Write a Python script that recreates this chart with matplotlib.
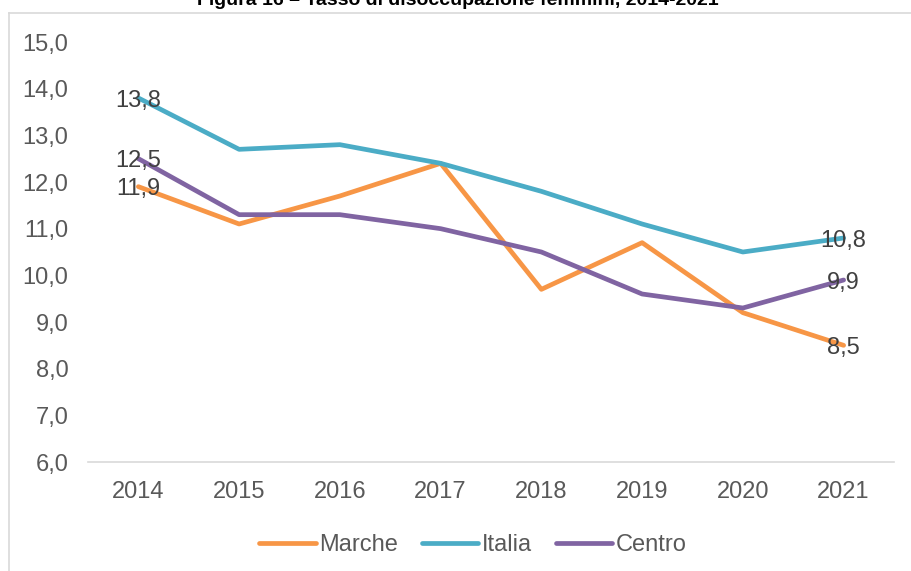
import matplotlib.pyplot as plt
from matplotlib.lines import Line2D

# --------------- Tasso di disoccupazione femminile 2014-2021 ---------------

years = ['2014', '2015', '2016', '2017', '2018', '2019', '2020', '2021']
marche = [11.9, 11.1, 11.7, 12.4, 9.7, 10.7, 9.2, 8.5]
italia = [13.8, 12.7, 12.8, 12.4, 11.8, 11.1, 10.5, 10.8]
centro = [12.5, 11.3, 11.3, 11.0, 10.5, 9.6, 9.3, 9.9]

plt.rcParams['font.family'] = ['Liberation Sans', 'DejaVu Sans']

fig = plt.figure(figsize=(9.12, 5.71), dpi=100)
ax = fig.add_axes([88 / 912, 1 - 462 / 571, (894 - 88) / 912, 420 / 571])

x = range(len(years))
ax.plot(x, marche, color='#F79646', linewidth=3.4, label='Marche', solid_capstyle='round')
ax.plot(x, italia, color='#4BACC6', linewidth=3.4, label='Italia', solid_capstyle='round')
ax.plot(x, centro, color='#8064A2', linewidth=3.4, label='Centro', solid_capstyle='round')

# labels on first and last point only
for series in (marche, italia, centro):
    for i in (0, len(years) - 1):
        ax.text(i, series[i], f'{series[i]:.1f}'.replace('.', ','), ha='center', va='center_baseline',
                fontsize=17, color='#404040')

ax.set_xlim(-0.5, len(years) - 0.5)
ax.set_ylim(6, 15)
ax.set_xticks(list(x))
ax.set_xticklabels(years)
ax.set_yticks(range(6, 16))
ax.set_yticklabels([f'{v},0' for v in range(6, 16)])
ax.tick_params(length=0, labelsize=17, labelcolor='#595959')
ax.tick_params(axis='x', pad=14)
ax.tick_params(axis='y', pad=14)
for side in ('top', 'right', 'left'):
    ax.spines[side].set_visible(False)
ax.spines['bottom'].set_color('#D9D9D9')
ax.spines['bottom'].set_linewidth(1.2)

ax.legend(loc='center', bbox_to_anchor=(473 / 912, 1 - 545 / 571), bbox_transform=fig.transFigure,
          ncol=3, frameon=False, fontsize=17, handlelength=2.4, handletextpad=0.15, columnspacing=1.0,
          labelcolor='#595959')

# chart border (cut by image edges)
fig.add_artist(Line2D([9 / 912, 9 / 912], [0, 1 - 13 / 571], color='#D9D9D9', linewidth=1.2))
fig.add_artist(Line2D([9 / 912, 1], [1 - 13 / 571, 1 - 13 / 571], color='#D9D9D9', linewidth=1.2))

fig.text(458 / 912, 1 - 5 / 571, 'Figura 16 – Tasso di disoccupazione femmini, 2014-2021', ha='center',
         va='baseline', fontsize=14, fontweight='bold', color='#000000')

plt.savefig('out.png', dpi=100)
